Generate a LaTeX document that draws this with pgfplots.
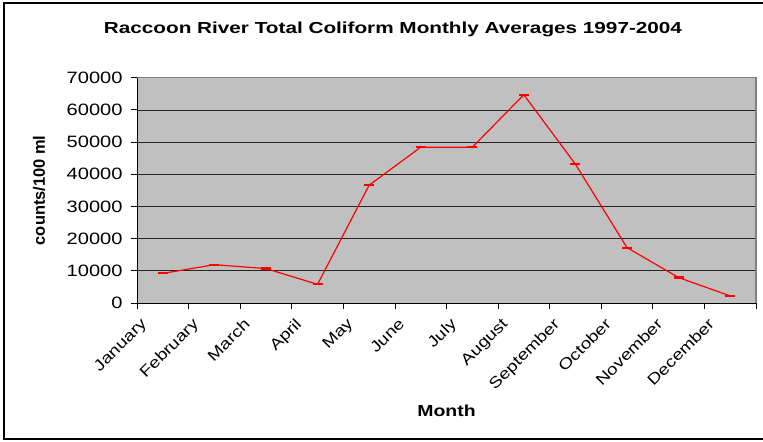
\documentclass[border=0pt]{standalone}
\usepackage{fontspec}
\setmainfont{Liberation Sans}[FakeStretch=1.22]
\newfontfamily\plainfont{Liberation Sans}
\newfontfamily\titlefont{Liberation Sans}[FakeStretch=1.3]
\usepackage{pgfplots}
\pgfplotsset{compat=1.18}
\definecolor{plotgray}{RGB}{192,192,192}
\begin{document}
\begin{tikzpicture}
\useasboundingbox (0,0) rectangle (763bp,442bp);
\fill[white] (0,0) rectangle (763bp,442bp);
\draw[black, line width=1.2bp] (4bp,3bp) rectangle (775bp,439bp);
\begin{axis}[
  at={(137bp,139bp)}, anchor=south west,
  scale only axis, width=619bp, height=225.3bp,
  xmin=0.5, xmax=12.5, ymin=0, ymax=70000,
  axis lines=left, axis line style={-, black, line width=0.8bp},
  axis background/.style={fill=plotgray},
  ytick={0,10000,...,70000}, ymajorgrids,
  major grid style={black!85, line width=0.7bp},
  tick align=outside, major tick length=6bp,
  tick style={black, line width=0.8bp},
  xtick={0.5,1.5,...,12.5}, x tick label as interval,
  xticklabels={January,February,March,April,May,June,July,August,September,October,November,December},
  scaled y ticks=false,
  /pgf/number format/.cd, 1000 sep={}, assume math mode=true,
  /pgfplots/.cd,
  yticklabel style={font=\fontsize{16.5}{19}\selectfont, xshift=-5bp},
  xticklabel style={font=\fontsize{15.5}{18}\selectfont, inner sep=0pt, xshift=-23bp, yshift=-8bp, rotate=45, anchor=north east},
  title={Raccoon River Total Coliform Monthly Averages 1997-2004},
  title style={font=\titlefont\bfseries\fontsize{16}{19}\selectfont, at={(axis description cs:0.4136,1.19)}, anchor=center},
  ylabel={counts/100 ml},
  ylabel style={font=\plainfont\bfseries\fontsize{16.5}{19}\selectfont, at={(axis description cs:-0.158,0.5)}, anchor=center},
  xlabel={Month},
  xlabel style={font=\bfseries\fontsize{16}{19}\selectfont, at={(axis description cs:0.5,-0.477)}, anchor=center},
  extra description/.code={
    \draw[gray, line width=1.5bp] (rel axis cs:0,1) -- (rel axis cs:1,1) -- (rel axis cs:1,0);
  },
  clip=false,
]
\addplot[red, line width=1.2bp, mark=-, mark size=5bp, mark options={line width=2.2bp}]
  coordinates {
  (1,9200) (2,11900) (3,10700) (4,5800) (5,36600) (6,48400)
  (7,48400) (8,64700) (9,43100) (10,17200) (11,7900) (12,2200)
  };
\end{axis}
\end{tikzpicture}
\end{document}
